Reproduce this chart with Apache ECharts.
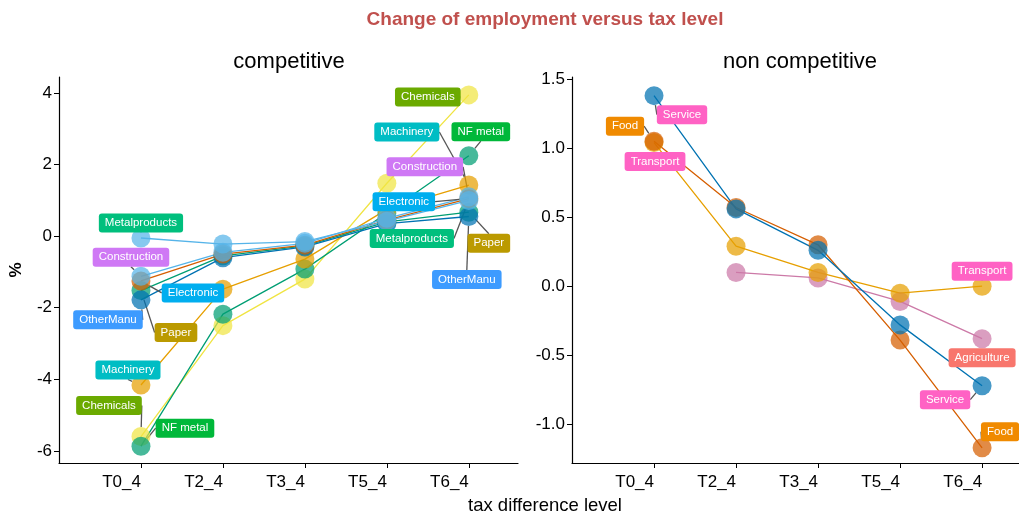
<!DOCTYPE html>
<html>
<head>
<meta charset="utf-8">
<script src="https://cdn.jsdelivr.net/npm/echarts@6/dist/echarts.min.js"></script>
<style>
  html, body { margin: 0; padding: 0; background: #fff; }
  #main { width: 1019px; height: 515px; }
</style>
</head>
<body>
<div id="main"></div>
<script>
// x categories
var levels = ['T0_4', 'T2_4', 'T3_4', 'T5_4', 'T6_4'];

// competitive sectors, % change per level
var chemicals     = [-5.60, -2.50, -1.20, 1.48, 3.95];
var nfMetal       = [-5.87, -2.18, -0.92, 0.65, 2.25];
var machinery     = [-4.16, -1.48, -0.64, 0.75, 1.43];
var metalproducts = [-0.05, -0.22, -0.15, 0.42, 1.00];
var construction  = [-1.12, -0.45, -0.20, 0.50, 1.10];
var electronic    = [-1.25, -0.50, -0.25, 0.45, 1.05];
var paper         = [-1.52, -0.55, -0.27, 0.40, 0.67];
var otherManu     = [-1.78, -0.60, -0.30, 0.35, 0.55];

// non competitive sectors
var service     = [1.38, 0.56, 0.26, -0.28, -0.72];
var food        = [1.05, 0.57, 0.30, -0.39, -1.17];
var transport   = [1.04, 0.29, 0.10, -0.05, 0.00];
var agriculture = [null, 0.10, 0.06, -0.11, -0.38];

var leftTicks = [-6, -4, -2, 0, 2, 4];
var rightTicks = [-1.0, -0.5, 0.0, 0.5, 1.0, 1.5];

// line/point colour, label fill, label offsets (first point, last point)
var look = {
  'Chemicals':     { c: '#F0E442', f: '#6BAA00', a: [-32, -31], b: [-41, 2] },
  'NF metal':      { c: '#009E73', f: '#00B83A', a: [44, -18],  b: [12, -24] },
  'Machinery':     { c: '#E69F00', f: '#00BDC4', a: [-13, -15], b: [-62, -53] },
  'Metalproducts': { c: '#56B4E9', f: '#00BF7D', a: [0, -15],   b: [-57, 38] },
  'Construction':  { c: '#56B4E9', f: '#CF78F5', a: [-10, -19], b: [-44, -30] },
  'Electronic':    { c: '#D55E00', f: '#00AEEF', a: [52, 12],   b: [-65, 3] },
  'Paper':         { c: '#009E73', f: '#BB9A00', a: [35, 42],   b: [20, 31] },
  'OtherManu':     { c: '#0072B2', f: '#3D9BFF', a: [-33, 20],  b: [-2, 63] },
  'Service':       { c: '#0072B2', f: '#FF62C4', a: [28, 19],   b: [-37, 14] },
  'Food':          { c: '#D55E00', f: '#F08A00', a: [-29, -15], b: [18, -16] },
  'Transport':     { c: '#E69F00', f: '#FF62C4', a: [1, 19],    b: [0, -15] },
  'Agriculture':   { c: '#CC79A7', f: '#F8766D', a: null,       b: [0, 19] }
};

var leftSet = [
  ['Chemicals', chemicals], ['NF metal', nfMetal], ['Machinery', machinery],
  ['Paper', paper], ['OtherManu', otherManu], ['Electronic', electronic],
  ['Construction', construction], ['Metalproducts', metalproducts]
];
var rightSet = [
  ['Agriculture', agriculture], ['Transport', transport],
  ['Food', food], ['Service', service]
];

var font = 'Liberation Sans, Arial';

function fade(hex, a) {
  var n = parseInt(hex.slice(1), 16);
  return 'rgba(' + (n >> 16) + ',' + ((n >> 8) & 255) + ',' + (n & 255) + ',' + a + ')';
}

function makeSeries(name, vals, panel) {
  var lk = look[name];
  var data = vals.map(function (v, i) {
    var item = { value: [i, v] };
    var off = i === 0 ? lk.a : (i === vals.length - 1 ? lk.b : null);
    if (off && v != null) item.label = { show: true };
    return item;
  });
  return {
    name: name,
    type: 'line',
    xAxisIndex: panel,
    yAxisIndex: panel,
    data: data,
    symbol: 'circle',
    symbolSize: 19,
    showAllSymbol: true,
    connectNulls: false,
    lineStyle: { color: lk.c, width: 1.3 },
    itemStyle: { color: fade(lk.c, 0.72) },
    emphasis: { disabled: true },
    label: {
      show: false,
      position: 'inside',
      formatter: name,
      color: '#fff',
      fontFamily: font,
      fontSize: 11.5,
      backgroundColor: lk.f,
      padding: [4, 6, 3, 6],
      borderRadius: 3
    },
    labelLine: { show: true, lineStyle: { color: '#555', width: 1.3 } },
    labelLayout: function (p) {
      var off = p.dataIndex === 0 ? lk.a : lk.b;
      if (!off) return {};
      return { dx: off[0], dy: off[1] };
    }
  };
}

var series = [];
leftSet.forEach(function (s) { series.push(makeSeries(s[0], s[1], 0)); });
rightSet.forEach(function (s) { series.push(makeSeries(s[0], s[1], 1)); });

function xAxisOf(i, hi) {
  return {
    gridIndex: i,
    type: 'value',
    min: -1,
    max: hi,
    splitLine: { show: false },
    axisLine: { onZero: false, lineStyle: { color: '#000', width: 1.2 } },
    axisTick: { show: true, customValues: [0, 1, 2, 3, 4], length: 5, lineStyle: { color: '#000' } },
    axisLabel: {
      customValues: [0, 1, 2, 3, 4],
      formatter: function (v) { return levels[Math.round(v)]; },
      align: 'right',
      color: '#000', fontSize: 17, fontFamily: font, margin: 11
    }
  };
}

function yAxisOf(i, lo, hi, ticks, fmt) {
  return {
    gridIndex: i, type: 'value', min: lo, max: hi,
    splitLine: { show: false },
    axisLine: { show: true, onZero: false, lineStyle: { color: '#000', width: 1.2 } },
    axisTick: { show: true, customValues: ticks, length: 5, lineStyle: { color: '#000' } },
    axisLabel: { customValues: ticks, formatter: fmt, color: '#000', fontSize: 17, fontFamily: font, margin: 7 }
  };
}

var leftY = yAxisOf(0, -6.34, 4.45, leftTicks, function (v) { return String(v); });
leftY.name = '%';
leftY.nameLocation = 'middle';
leftY.nameRotate = 90;
leftY.nameGap = 34;
leftY.nameTextStyle = { color: '#000', fontSize: 17, fontWeight: 'bold', fontFamily: font };
var rightY = yAxisOf(1, -1.28, 1.515, rightTicks, function (v) { return v.toFixed(1); });

var option = {
  animation: false,
  backgroundColor: '#fff',
  title: [
    { text: 'Change of employment versus tax level', left: 540, top: 5, textAlign: 'center',
      textStyle: { color: '#C0504D', fontSize: 19, fontWeight: 'bold', fontFamily: font } },
    { text: 'competitive', left: 284, top: 46, textAlign: 'center',
      textStyle: { color: '#000', fontSize: 22, fontWeight: 'normal', fontFamily: font } },
    { text: 'non competitive', left: 795, top: 46, textAlign: 'center',
      textStyle: { color: '#000', fontSize: 22, fontWeight: 'normal', fontFamily: font } },
    { text: 'tax difference level', left: 540, top: 491, textAlign: 'center',
      textStyle: { color: '#000', fontSize: 18.5, fontWeight: 'normal', fontFamily: font } }
  ],
  grid: [
    { left: 59, top: 77, width: 459, height: 386 },
    { left: 572, top: 77, right: 0, height: 386 }
  ],
  xAxis: [xAxisOf(0, 4.6), xAxisOf(1, 4.45)],
  yAxis: [leftY, rightY],
  series: series
};

var chart = echarts.init(document.getElementById('main'));
chart.setOption(option);
</script>
</body>
</html>
